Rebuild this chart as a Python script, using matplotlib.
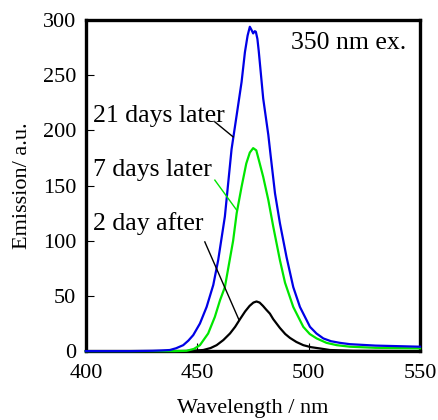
import matplotlib
matplotlib.use("Agg")
import matplotlib.pyplot as plt

# Data
wl_blue = [400, 420, 430, 434, 437.7, 440.5, 443.7, 446, 448.2, 451.2, 454.2, 457.2, 459.4,
           462.4, 465.4, 467.7, 469.9, 471.4, 472.6, 473.6, 474.4, 475.1, 475.8, 476.3,
           477.0, 477.6, 478.3, 479.6, 481.9, 482.9, 484.9, 487.1, 490.1, 493.1, 496.1,
           500.6, 503.5, 506.6, 510, 514, 518.5, 530, 540, 550]
em_blue = [0, 0, 0.3, 0.6, 1, 2.6, 5.4, 9.5, 14.5, 25, 40, 60, 82.5,
           122, 183, 214, 244, 271, 286, 294, 291, 288, 290, 289.5,
           283, 272, 257, 229, 196, 178, 143, 116, 85, 58, 40,
           22, 16, 11.5, 9, 7.5, 6.3, 5, 4.5, 4]

wl_green = [400, 440, 445.2, 448.5, 451.2, 454.9, 457.9, 460.2, 462.4, 463.9, 466.1, 467.7,
            469.9, 472, 473.6, 475.1, 476.5, 477.8, 479.6, 481.9, 484.1, 487.1, 489.4,
            493.1, 497.6, 500.5, 503.6, 508, 512.6, 518.5, 530, 550]
em_green = [0, 0, 0.3, 2, 5.4, 16, 31, 46, 58, 75, 100, 125,
            149, 170, 180, 184, 182, 172, 158, 137, 113, 82.5, 62,
            40, 22, 15.5, 11.5, 7.5, 5.4, 4, 3, 2.5]

wl_black = [400, 445, 452.7, 456, 458.7, 461.7, 464.7, 467, 469.2, 471.5, 473.5, 475.2,
            476.6, 478, 479.5, 481, 482.6, 484.1, 487.1, 489.5, 491.6, 494.5, 497.6,
            501, 505.1, 509.6, 520, 550]
em_black = [0, 0, 1, 2.8, 5.4, 10, 16, 22, 29, 36, 41, 44,
            45, 44, 41, 37.5, 34, 29, 21, 15.5, 12, 8.3, 5.4,
            3.6, 2.4, 1, 0.3, 0]

series_labels = ["21 days later", "7 days later", "2 day after"]
x_ticks = [400, 450, 500, 550]
y_ticks = [0, 50, 100, 150, 200, 250, 300]

plt.rcParams['font.family'] = ['Liberation Serif', 'DejaVu Serif']

fig = plt.figure(figsize=(4.38, 4.20), dpi=100)
ax = fig.add_axes([0.196, 0.164, 0.763, 0.788])

ax.plot(wl_black, em_black, color='black', lw=1.6, zorder=3, clip_on=False)
ax.plot(wl_green, em_green, color='#00e600', lw=1.6, zorder=3, clip_on=False)
ax.plot(wl_blue, em_blue, color='#0000e6', lw=1.6, zorder=3, clip_on=False)

ax.set_xlim(400, 550)
ax.set_ylim(0, 300)
ax.set_xticks(x_ticks)
ax.set_yticks(y_ticks)
ax.tick_params(direction='in', length=6, width=0.8, labelsize=16,
               top=False, right=False)
ax.tick_params(axis='x', pad=9)
ax.tick_params(axis='y', pad=7)
for s in ax.spines.values():
    s.set_linewidth(2.4)

ax.set_xlabel("Wavelength / nm", fontsize=16)
ax.set_ylabel("Emission/ a.u.", fontsize=16)
ax.xaxis.set_label_coords(0.5, -0.145)
ax.yaxis.set_label_coords(-0.16, 0.5)

fs = 18.5
ax.text(492.2, 279, "350 nm ex.", fontsize=fs, ha='left', va='center')
ax.text(403.1, 213, series_labels[0], fontsize=fs, ha='left', va='center')
ax.text(403.1, 164, series_labels[1], fontsize=fs, ha='left', va='center')
ax.text(403.1, 116, series_labels[2], fontsize=fs, ha='left', va='center')

ax.plot([457.9, 466.1], [207.8, 194.2], color='black', lw=1.0, zorder=4)
ax.plot([457.9, 467.7], [155, 127.8], color='#00e600', lw=1.0, zorder=4)
ax.plot([453.4, 468.8], [99, 28], color='black', lw=1.0, zorder=4)

fig.savefig("out.png", dpi=100)
